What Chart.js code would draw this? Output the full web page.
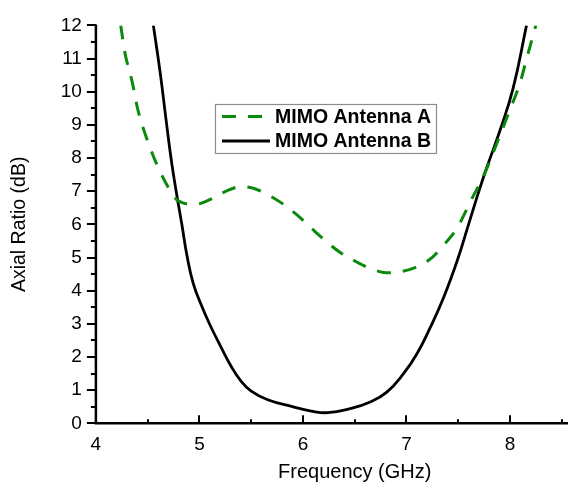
<!DOCTYPE html>
<html>
<head>
<meta charset="utf-8">
<script src="https://cdn.jsdelivr.net/npm/chart.js@4/dist/chart.umd.min.js"></script>
<style>
  html, body { margin: 0; padding: 0; background: #ffffff; overflow: hidden; }
  #wrap { position: absolute; left: 0; top: 0; width: 620px; height: 485px; }
</style>
</head>
<body>
<div id="wrap"><canvas id="c" width="620" height="485"></canvas></div>
<script>
// ---- data ----
const seriesNames = ['MIMO Antenna A', 'MIMO Antenna B'];
const freqA = [4.24, 4.285, 4.35, 4.41, 4.49, 4.59, 4.72, 4.80, 4.96, 5.11, 5.25, 5.38, 5.52, 5.65, 5.81, 5.94, 6.09, 6.22, 6.36, 6.51, 6.65, 6.78, 6.93, 7.07, 7.22, 7.33, 7.46, 7.51, 7.62, 7.75, 7.88, 7.98, 8.09, 8.17, 8.25];
const arA   = [12.0, 11.1, 10.3, 9.4, 8.6, 7.8, 7.0, 6.7, 6.6, 6.76, 6.99, 7.13, 7.09, 6.91, 6.61, 6.29, 5.86, 5.5, 5.15, 4.88, 4.67, 4.55, 4.57, 4.68, 4.93, 5.27, 5.75, 6.0, 6.7, 7.5, 8.5, 9.3, 10.2, 11.1, 12.0];
const freqB = [4.555, 4.62, 4.68, 4.73, 4.78, 4.83, 4.88, 4.94, 5.02, 5.10, 5.20, 5.31, 5.40, 5.5, 5.66, 5.89, 6.08, 6.24, 6.455, 6.65, 6.81, 6.97, 7.10, 7.23, 7.36, 7.49, 7.60, 7.70, 7.78, 7.90, 8.03, 8.16];
const arB   = [12.0, 10.6, 9.1, 7.9, 6.91, 6.0, 5.05, 4.22, 3.55, 2.98, 2.35, 1.70, 1.28, 0.97, 0.71, 0.51, 0.37, 0.32, 0.44, 0.64, 0.94, 1.49, 2.09, 2.89, 3.80, 4.90, 6.0, 7.0, 7.75, 8.8, 10.1, 12.0];
const xTicks = [4, 5, 6, 7, 8];
const yTicks = [0, 1, 2, 3, 4, 5, 6, 7, 8, 9, 10, 11, 12];
const xTitle = 'Frequency (GHz)';
const yTitle = 'Axial Ratio (dB)';

const toPts = (xs, ys) => xs.map((x, i) => ({ x: x, y: ys[i] }));
const GREEN = '#0a8a0a';
const FONT = "'Liberation Sans', Arial, sans-serif";

// axis lines, tick marks (y outward, x inward) and minor ticks
const axesPlugin = {
  id: 'axesPlugin',
  afterDatasetsDraw(chart) {
    const ctx = chart.ctx, xs = chart.scales.x, ys = chart.scales.y;
    const a = chart.chartArea;
    ctx.save();
    ctx.strokeStyle = '#000';
    ctx.lineWidth = 2.5;
    ctx.beginPath();
    ctx.moveTo(a.left, a.top - 1);
    ctx.lineTo(a.left, a.bottom);
    ctx.lineTo(a.right, a.bottom);
    ctx.stroke();
    ctx.lineWidth = 2;
    ctx.beginPath();
    for (let v = 0; v <= 12.001; v += 0.5) {
      const py = Math.round(ys.getPixelForValue(v));
      const major = Math.abs(v - Math.round(v)) < 1e-6;
      ctx.moveTo(a.left, py);
      ctx.lineTo(a.left - (major ? 9 : 5), py);
    }
    for (let v = 4; v <= 9.001; v += 0.5) {
      const px = Math.round(xs.getPixelForValue(v));
      const major = Math.abs(v - Math.round(v)) < 1e-6;
      ctx.moveTo(px, a.bottom);
      ctx.lineTo(px, a.bottom - (major ? 8 : 4));
    }
    ctx.stroke();
    ctx.restore();
  }
};

// legend box inside the plot
const legendPlugin = {
  id: 'boxLegend',
  afterDatasetsDraw(chart) {
    const ctx = chart.ctx;
    const bx = 215, by = 104, bw = 221, bh = 49;
    ctx.save();
    ctx.fillStyle = '#fff';
    ctx.fillRect(bx, by, bw, bh);
    ctx.strokeStyle = '#8c8c8c';
    ctx.lineWidth = 1.2;
    ctx.strokeRect(bx + 0.5, by + 0.5, bw, bh);
    const rows = [116.5, 141];
    chart.data.datasets.forEach((ds, i) => {
      const y = rows[i];
      ctx.strokeStyle = ds.borderColor;
      ctx.lineWidth = ds.borderWidth;
      ctx.setLineDash(ds.borderDash || []);
      ctx.lineDashOffset = 0;
      ctx.beginPath();
      ctx.moveTo(222, y);
      ctx.lineTo(270, y);
      ctx.stroke();
      ctx.setLineDash([]);
      ctx.fillStyle = '#000';
      ctx.font = "bold 19.5px " + FONT;
      ctx.textBaseline = 'middle';
      ctx.textAlign = 'left';
      ctx.fillText(ds.label, 275, y + 1);
    });
    ctx.restore();
  }
};

new Chart(document.getElementById('c'), {
  type: 'line',
  data: {
    datasets: [
      { label: seriesNames[0], data: toPts(freqA, arA), borderColor: GREEN, borderWidth: 3,
        borderDash: [14, 12], pointRadius: 0, tension: 0.35, fill: false },
      { label: seriesNames[1], data: toPts(freqB, arB), borderColor: '#000', borderWidth: 2.8,
        pointRadius: 0, tension: 0.45, fill: false }
    ]
  },
  options: {
    responsive: false,
    animation: false,
    devicePixelRatio: 1,
    layout: { padding: { top: 23, right: 6.5, bottom: 0, left: 0 } },
    plugins: { legend: { display: false }, tooltip: { enabled: false } },
    scales: {
      x: {
        type: 'linear', min: 4, max: 9,
        afterBuildTicks: (s) => { s.ticks = xTicks.map(v => ({ value: v })); },
        afterFit: (s) => { s.height = 61.7; s.paddingRight = 0; s.paddingLeft = 0; },
        grid: { display: false, drawTicks: false },
        border: { display: false },
        ticks: { color: '#000', font: { family: FONT, size: 19 }, padding: 10, maxRotation: 0, autoSkip: false },
        title: { display: true, text: xTitle, color: '#000', font: { family: FONT, size: 20 }, padding: { top: 0, bottom: 1 } }
      },
      y: {
        type: 'linear', min: 0, max: 12,
        afterBuildTicks: (s) => { s.ticks = yTicks.map(v => ({ value: v })); },
        afterFit: (s) => { s.width = 95.9; },
        grid: { display: false, drawTicks: false },
        border: { display: false },
        ticks: { color: '#000', font: { family: FONT, size: 19 }, padding: 14, autoSkip: false },
        title: { display: true, text: yTitle, color: '#000', font: { family: FONT, size: 19.5 }, padding: { top: 8, bottom: 0 } }
      }
    }
  },
  plugins: [axesPlugin, legendPlugin]
});
</script>
</body>
</html>
